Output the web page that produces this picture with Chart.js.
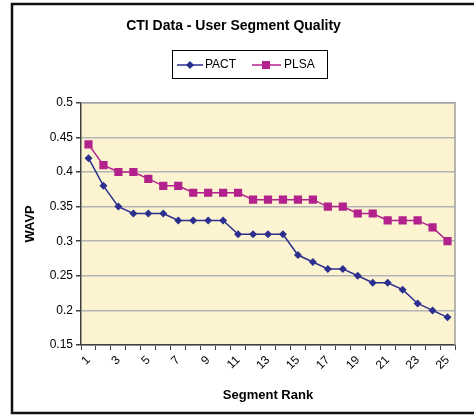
<!DOCTYPE html>
<html>
<head>
<meta charset="utf-8">
<script src="https://cdn.jsdelivr.net/npm/chart.js@4.4.1/dist/chart.umd.min.js"></script>
<style>
  body { margin: 0; background: #fff; }
  canvas { display: block; }
</style>
</head>
<body>
<canvas id="myChart" width="474" height="417"></canvas>
<script>
// Donnees
var segmentRanks = ['1', '2', '3', '4', '5', '6', '7', '8', '9', '10', '11', '12', '13',
                    '14', '15', '16', '17', '18', '19', '20', '21', '22', '23', '24', '25'];
var pactValues = [0.42, 0.38, 0.35, 0.34, 0.34, 0.34, 0.33, 0.33, 0.33, 0.33, 0.31, 0.31, 0.31,
                  0.31, 0.28, 0.27, 0.26, 0.26, 0.25, 0.24, 0.24, 0.23, 0.21, 0.20, 0.19];
var plsaValues = [0.44, 0.41, 0.40, 0.40, 0.39, 0.38, 0.38, 0.37, 0.37, 0.37, 0.37, 0.36, 0.36,
                  0.36, 0.36, 0.36, 0.35, 0.35, 0.34, 0.34, 0.33, 0.33, 0.33, 0.32, 0.30];
var yMin = 0.15, yMax = 0.5, yStep = 0.05;

var pactColor = '#2B2F8E';
var plsaColor = '#B3228C';
var fontFamily = "'Liberation Sans', Arial, sans-serif";

// fond jaune de la zone de tracé + cadre extérieur
var decorPlugin = {
    id: 'decor',
    beforeDraw: function(chart) {
        var ctx = chart.ctx, a = chart.chartArea;
        ctx.save();
        ctx.fillStyle = '#FCF3D0';
        ctx.fillRect(a.left, a.top, a.right - a.left, a.bottom - a.top);
        ctx.strokeStyle = '#111';
        ctx.lineWidth = 2.5;
        ctx.beginPath();
        ctx.moveTo(480, 4);
        ctx.lineTo(12, 4);
        ctx.lineTo(12, 413);
        ctx.lineTo(480, 413);
        ctx.stroke();
        ctx.restore();
    },
    afterDatasetsDraw: function(chart) {
        var ctx = chart.ctx, a = chart.chartArea;
        ctx.save();
        ctx.strokeStyle = '#A0A0A0';
        ctx.lineWidth = 1.5;
        ctx.beginPath();
        ctx.moveTo(a.left, a.top);
        ctx.lineTo(a.right, a.top);
        ctx.lineTo(a.right, a.bottom);
        ctx.stroke();
        ctx.restore();
    },
    afterDraw: function(chart) {
        // légende style Excel avec cadre
        var ctx = chart.ctx;
        ctx.save();
        ctx.strokeStyle = '#000';
        ctx.lineWidth = 1;
        ctx.strokeRect(172.5, 50.5, 155, 28);
        ctx.font = '12px ' + fontFamily;
        ctx.textBaseline = 'middle';
        ctx.fillStyle = '#000';
        var y = 65;
        // PACT
        ctx.strokeStyle = pactColor;
        ctx.lineWidth = 1.5;
        ctx.beginPath(); ctx.moveTo(177, y); ctx.lineTo(203, y); ctx.stroke();
        ctx.fillStyle = pactColor;
        ctx.beginPath();
        ctx.moveTo(190, y - 4); ctx.lineTo(194, y); ctx.lineTo(190, y + 4); ctx.lineTo(186, y);
        ctx.closePath(); ctx.fill();
        ctx.fillStyle = '#000';
        ctx.fillText('PACT', 205, y);
        // PLSA
        ctx.strokeStyle = plsaColor;
        ctx.beginPath(); ctx.moveTo(252, y); ctx.lineTo(281, y); ctx.stroke();
        ctx.fillStyle = plsaColor;
        ctx.fillRect(262, y - 4, 8, 8);
        ctx.fillStyle = '#000';
        ctx.fillText('PLSA', 284, y);
        ctx.restore();
    }
};

var ctx = document.getElementById('myChart').getContext('2d');
var myChart = new Chart(ctx, {
    type: 'line',
    data: {
        labels: segmentRanks,
        datasets: [{
            label: 'PACT',
            data: pactValues,
            borderColor: pactColor,
            backgroundColor: pactColor,
            borderWidth: 1.5,
            pointStyle: 'rectRot',
            pointRadius: 4,
            pointBorderWidth: 0,
            tension: 0
        }, {
            label: 'PLSA',
            data: plsaValues,
            borderColor: plsaColor,
            backgroundColor: plsaColor,
            borderWidth: 1.5,
            pointStyle: 'rect',
            pointRadius: 5.8,
            pointBorderWidth: 0,
            tension: 0
        }]
    },
    options: {
        responsive: false,
        animation: false,
        layout: { padding: { left: 12, right: 19, top: 0, bottom: 0 } },
        plugins: {
            legend: { display: false },
            tooltip: { enabled: false },
            title: {
                display: true,
                text: 'CTI Data - User Segment Quality',
                color: '#000',
                font: { family: fontFamily, size: 14, weight: 'bold' },
                padding: { top: 18, bottom: 68 }
            }
        },
        scales: {
            x: {
                offset: true,
                afterFit: function(scale) { scale.height = 72; },
                grid: {
                    offset: true,
                    drawOnChartArea: false,
                    drawTicks: true,
                    tickLength: 5,
                    color: '#404040'
                },
                border: { color: '#404040', width: 1.5 },
                ticks: {
                    autoSkip: false,
                    minRotation: 45,
                    maxRotation: 45,
                    padding: 3,
                    color: '#000',
                    font: { family: fontFamily, size: 12 },
                    callback: function(value, index) {
                        return index % 2 === 0 ? this.getLabelForValue(value) : '';
                    }
                },
                title: {
                    display: true,
                    text: 'Segment Rank',
                    color: '#000',
                    font: { family: fontFamily, size: 13, weight: 'bold' },
                    padding: { top: 4, bottom: 14 }
                }
            },
            y: {
                min: yMin,
                max: yMax,
                afterFit: function(scale) { scale.width = 69; },
                grid: {
                    color: '#B4B4B4',
                    lineWidth: 1.5,
                    tickLength: 5,
                    tickColor: '#404040'
                },
                border: { color: '#404040', width: 1.5 },
                ticks: {
                    stepSize: yStep,
                    padding: 3,
                    color: '#000',
                    font: { family: fontFamily, size: 12 },
                    callback: function(value) { return String(Number(value.toFixed(2))); }
                },
                title: {
                    display: true,
                    text: 'WAVP',
                    color: '#000',
                    font: { family: fontFamily, size: 13, weight: 'bold' },
                    padding: { top: 11, bottom: 0 }
                }
            }
        }
    },
    plugins: [decorPlugin]
});
</script>
</body>
</html>
